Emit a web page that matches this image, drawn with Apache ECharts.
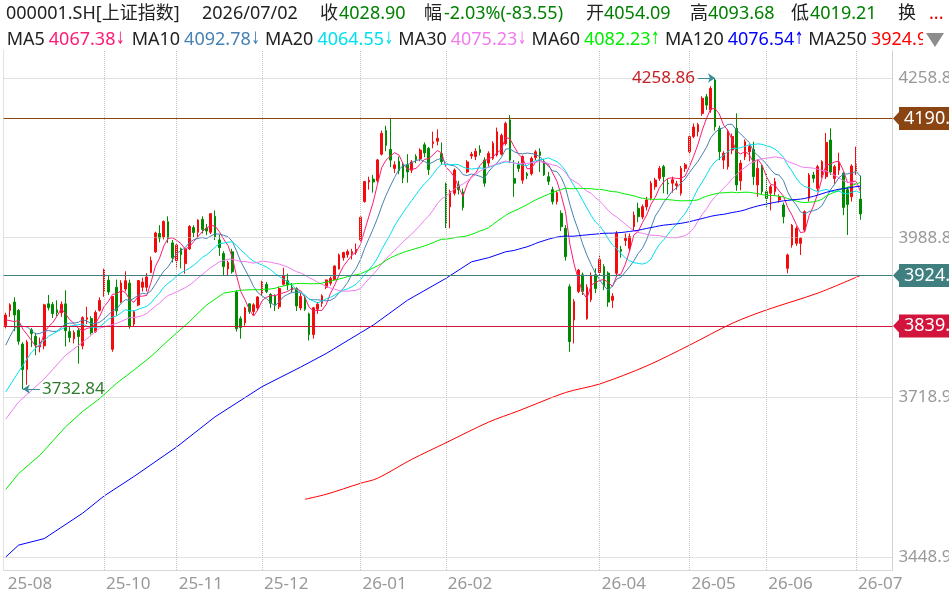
<!DOCTYPE html>
<html>
<head>
<meta charset="utf-8">
<title>000001.SH 上证指数 日K</title>
<script src="https://cdn.jsdelivr.net/npm/echarts@6/dist/echarts.min.js"></script>
<style>
  html, body { margin: 0; padding: 0; background: #fff; }
  #main { width: 949px; height: 596px; }
</style>
</head>
<body>
<div id="main"></div>
<script>
// trading days shown on the chart
const dates = [
  '2025-08-29',
  '2025-09-01','2025-09-02','2025-09-03','2025-09-04','2025-09-05','2025-09-08','2025-09-09','2025-09-10','2025-09-11','2025-09-12',
  '2025-09-15','2025-09-16','2025-09-17','2025-09-18','2025-09-19','2025-09-22','2025-09-23','2025-09-24','2025-09-25','2025-09-26',
  '2025-09-29','2025-09-30',
  '2025-10-09','2025-10-10','2025-10-13','2025-10-14','2025-10-15','2025-10-16','2025-10-17','2025-10-20','2025-10-21','2025-10-22',
  '2025-10-23','2025-10-24','2025-10-27','2025-10-28','2025-10-29','2025-10-30','2025-10-31',
  '2025-11-03','2025-11-04','2025-11-05','2025-11-06','2025-11-07','2025-11-10','2025-11-11','2025-11-12','2025-11-13','2025-11-14',
  '2025-11-17','2025-11-18','2025-11-19','2025-11-20','2025-11-21','2025-11-24','2025-11-25','2025-11-26','2025-11-27','2025-11-28',
  '2025-12-01','2025-12-02','2025-12-03','2025-12-04','2025-12-05','2025-12-08','2025-12-09','2025-12-10','2025-12-11','2025-12-12',
  '2025-12-15','2025-12-16','2025-12-17','2025-12-18','2025-12-19','2025-12-22','2025-12-23','2025-12-24','2025-12-25','2025-12-26',
  '2025-12-29','2025-12-30','2025-12-31',
  '2026-01-05','2026-01-06','2026-01-07','2026-01-08','2026-01-09','2026-01-12','2026-01-13','2026-01-14','2026-01-15','2026-01-16',
  '2026-01-19','2026-01-20','2026-01-21','2026-01-22','2026-01-23','2026-01-26','2026-01-27','2026-01-28','2026-01-29','2026-01-30',
  '2026-02-02','2026-02-03','2026-02-04','2026-02-05','2026-02-06','2026-02-09','2026-02-10','2026-02-11','2026-02-12','2026-02-13',
  '2026-02-24','2026-02-25','2026-02-26','2026-02-27',
  '2026-03-02','2026-03-03','2026-03-04','2026-03-05','2026-03-06','2026-03-09','2026-03-10','2026-03-11','2026-03-12','2026-03-13',
  '2026-03-16','2026-03-17','2026-03-18','2026-03-19','2026-03-20','2026-03-23','2026-03-24','2026-03-25','2026-03-26','2026-03-27',
  '2026-03-30','2026-03-31',
  '2026-04-01','2026-04-02','2026-04-03','2026-04-07','2026-04-08','2026-04-09','2026-04-10','2026-04-13','2026-04-14','2026-04-15',
  '2026-04-16','2026-04-17','2026-04-20','2026-04-21','2026-04-22','2026-04-23','2026-04-24','2026-04-27','2026-04-28','2026-04-29',
  '2026-04-30',
  '2026-05-06','2026-05-07','2026-05-08','2026-05-11','2026-05-12','2026-05-13','2026-05-14','2026-05-15','2026-05-18','2026-05-19',
  '2026-05-20','2026-05-21','2026-05-22','2026-05-25','2026-05-26','2026-05-27','2026-05-28','2026-05-29',
  '2026-06-01','2026-06-02','2026-06-03','2026-06-04','2026-06-05','2026-06-08','2026-06-09','2026-06-10','2026-06-11','2026-06-12',
  '2026-06-15','2026-06-16','2026-06-17','2026-06-18','2026-06-22','2026-06-23','2026-06-24','2026-06-25','2026-06-26','2026-06-29',
  '2026-06-30',
  '2026-07-01','2026-07-02'
];

// daily bars: [open, close, low, high]
const candles = [
  [3840.0,3858.0,3835.5,3862.0],
  // 2025-09
  [3866.0,3875.5,3855.0,3878.0],[3880.0,3858.1,3831.0,3888.0],[3866.0,3813.6,3808.0,3868.0],[3809.0,3765.9,3732.84,3812.0],
  [3766.0,3812.5,3740.0,3816.0],[3833.0,3826.8,3804.0,3836.0],[3822.0,3807.3,3790.0,3828.0],[3804.0,3812.2,3795.0,3820.0],
  [3806.0,3875.3,3800.0,3877.0],[3877.0,3870.6,3866.0,3892.0],[3876.0,3860.5,3853.0,3880.0],[3867.0,3861.9,3856.0,3883.0],
  [3862.0,3876.3,3855.0,3881.0],[3877.0,3831.7,3805.0,3900.0],[3830.0,3820.1,3812.0,3838.0],[3818.0,3828.6,3810.0,3832.0],
  [3832.0,3821.8,3776.0,3836.0],[3806.0,3853.6,3800.0,3856.0],[3851.0,3853.3,3843.0,3872.0],[3852.0,3828.1,3825.0,3856.0],
  [3830.0,3862.5,3828.0,3866.0],[3866.0,3882.8,3864.0,3888.0],
  // 2025-10
  [3898.0,3934.0,3889.0,3936.5],[3917.0,3897.0,3892.0,3925.0],[3800.0,3889.5,3796.0,3890.0],[3905.0,3865.2,3857.0,3918.0],
  [3880.0,3912.2,3878.0,3917.0],[3902.0,3916.2,3898.0,3932.0],[3912.0,3839.8,3835.0,3918.0],[3843.0,3863.9,3838.0,3866.0],
  [3875.0,3916.3,3873.0,3917.0],[3905.0,3913.8,3898.0,3921.0],[3905.0,3922.4,3898.0,3929.0],[3930.0,3950.3,3929.0,3957.0],
  [3965.0,3996.9,3963.0,3999.0],[3996.0,3988.2,3981.0,4010.0],[3990.0,4016.3,3986.0,4018.0],[4016.0,3986.9,3980.0,4025.0],
  [3980.0,3954.8,3947.0,3985.0],
  // 2025-11
  [3950.0,3976.5,3937.0,3978.0],[3970.0,3960.2,3937.0,3972.0],[3945.0,3969.3,3928.0,3972.0],[3970.0,4007.8,3968.0,4010.0],
  [4006.0,3997.6,3990.0,4010.0],[3998.0,4018.6,3990.0,4020.0],[4020.0,4002.8,3996.0,4025.0],[4005.0,4000.1,3993.0,4012.0],
  [3998.0,4029.5,3995.0,4030.0],[4025.0,3990.5,3985.0,4035.0],[3985.0,3972.0,3958.0,3994.0],[3962.0,3939.8,3925.0,3966.0],
  [3936.0,3946.7,3925.0,3950.0],[3965.0,3931.1,3928.0,3970.0],[3897.0,3834.9,3830.0,3900.0],[3852.0,3836.8,3818.0,3856.0],
  [3845.0,3870.0,3840.0,3872.0],[3877.0,3864.2,3860.0,3878.0],[3864.0,3875.3,3858.0,3878.0],[3870.0,3888.6,3866.0,3890.0],
  // 2025-12
  [3894.0,3914.0,3892.0,3916.0],[3910.0,3897.7,3895.0,3914.0],[3893.0,3878.0,3870.0,3895.0],[3890.0,3875.8,3865.0,3893.0],
  [3872.0,3902.8,3868.0,3906.0],[3910.0,3924.1,3908.0,3938.0],[3916.0,3909.5,3900.0,3928.0],[3905.0,3900.5,3895.0,3912.0],
  [3903.0,3873.3,3865.0,3905.0],[3870.0,3889.4,3866.0,3895.0],[3887.0,3867.9,3865.0,3890.0],[3860.0,3824.8,3815.0,3862.0],
  [3825.0,3870.3,3818.0,3872.0],[3868.0,3876.4,3860.0,3880.0],[3878.0,3890.5,3872.0,3893.0],[3905.0,3917.4,3902.0,3918.0],
  [3912.0,3920.0,3908.0,3923.0],[3918.0,3941.0,3917.0,3942.0],[3936.0,3959.6,3935.0,3962.0],[3955.0,3963.7,3950.0,3965.0],
  [3960.0,3965.3,3955.0,3969.0],[3962.0,3965.1,3952.0,3970.0],[3964.0,3968.8,3960.0,3979.0],
  // 2026-01
  [3985.0,4023.4,3983.0,4025.0],[4050.0,4083.7,4048.0,4085.0],[4083.0,4085.8,4070.0,4092.0],[4088.0,4083.0,4065.0,4095.0],
  [4085.0,4120.4,4082.0,4122.0],[4130.0,4165.3,4128.0,4170.0],[4170.0,4145.0,4135.0,4178.0],[4138.0,4120.0,4108.0,4190.0],
  [4106.0,4112.0,4098.0,4118.0],[4118.0,4102.0,4096.0,4126.0],[4112.0,4090.0,4081.0,4115.0],[4112.0,4100.0,4082.0,4130.0],
  [4103.0,4117.0,4098.0,4120.0],[4126.0,4121.0,4115.0,4130.0],[4122.0,4137.0,4118.0,4140.0],[4146.0,4132.0,4125.0,4150.0],
  [4140.0,4104.0,4095.0,4142.0],[4148.0,4151.0,4140.0,4168.0],[4152.0,4157.0,4145.0,4172.0],[4131.0,4117.4,4112.0,4150.0],
  // 2026-02
  [4079.6,4013.0,4005.0,4082.0],[4041.0,4066.7,4004.7,4070.0],[4064.0,4103.3,4060.0,4106.0],[4078.0,4070.0,4062.0,4085.0],
  [4066.0,4040.0,4035.0,4072.0],[4100.0,4117.0,4098.0,4120.0],[4127.0,4130.0,4122.0,4134.0],[4126.0,4135.0,4120.0,4140.0],
  [4138.0,4133.0,4128.0,4145.0],[4120.0,4081.0,4075.0,4125.0],[4115.0,4131.5,4108.0,4135.0],[4123.0,4148.4,4120.0,4152.0],
  [4128.7,4168.0,4126.0,4175.0],[4130.0,4162.0,4128.0,4165.0],
  // 2026-03
  [4148.0,4182.0,4145.0,4185.0],[4188.0,4120.0,4115.0,4196.0],[4089.0,4081.0,4058.0,4120.0],[4112.0,4106.0,4100.0,4118.0],
  [4086.0,4126.0,4080.0,4128.0],[4097.0,4094.0,4088.0,4100.0],[4097.0,4123.0,4094.0,4126.0],[4124.0,4134.0,4120.0,4137.0],
  [4134.0,4128.0,4100.0,4140.0],[4117.0,4095.0,4093.0,4122.0],[4092.0,4084.0,4078.0,4100.0],[4070.0,4050.0,4045.0,4075.0],
  [4050.0,4065.0,4045.0,4068.0],[4030.0,4007.5,4000.0,4035.0],[4004.7,3956.8,3950.0,4010.0],[3906.0,3813.0,3796.0,3910.0],
  [3849.7,3880.7,3810.0,3885.0],[3898.0,3934.0,3895.0,3936.0],[3926.0,3898.0,3892.0,3930.0],[3852.0,3905.0,3850.0,3910.0],
  [3884.0,3925.0,3880.0,3930.0],[3926.0,3903.0,3895.0,3937.0],
  // 2026-04
  [3930.0,3952.0,3925.0,3960.0],[3940.0,3906.0,3900.0,3944.0],[3929.0,3880.0,3872.0,3932.0],[3883.0,3890.0,3870.0,3895.0],
  [3928.6,3996.0,3925.0,4000.0],[3969.0,3966.0,3955.0,3975.0],[3984.0,3988.0,3975.0,3996.0],[3971.0,3990.6,3966.0,3996.0],
  [4007.5,4027.0,4000.0,4033.0],[4038.5,4024.4,4015.0,4048.0],[4024.0,4041.3,4020.0,4045.0],[4041.0,4052.5,4035.0,4058.0],
  [4055.4,4080.8,4052.0,4085.0],[4075.0,4086.4,4070.0,4090.0],[4089.0,4106.0,4085.0,4110.0],[4109.0,4092.0,4064.0,4112.0],
  [4081.0,4080.0,4062.0,4088.0],[4081.0,4087.0,4065.0,4092.0],[4077.0,4080.0,4070.0,4085.0],[4064.0,4106.0,4060.0,4110.0],
  [4106.0,4112.0,4100.0,4115.0],
  // 2026-05
  [4134.0,4159.7,4130.0,4163.0],[4160.0,4176.0,4157.0,4182.0],[4168.0,4180.0,4160.0,4183.0],[4199.0,4224.5,4195.0,4228.0],
  [4227.0,4213.0,4205.0,4232.0],[4204.8,4241.4,4200.0,4245.0],[4255.5,4176.6,4170.0,4258.86],[4173.8,4134.3,4120.0,4178.0],
  [4120.0,4131.5,4105.0,4135.0],[4109.0,4168.0,4104.0,4172.0],[4137.0,4160.0,4130.0,4165.0],[4173.8,4078.0,4068.0,4199.0],
  [4085.0,4115.0,4069.0,4120.0],[4125.8,4151.2,4120.0,4155.0],[4134.0,4143.0,4118.0,4146.0],[4138.0,4092.0,4078.0,4151.0],
  [4078.0,4106.0,4058.0,4120.0],[4109.0,4067.0,4062.0,4112.0],
  // 2026-06
  [4066.7,4055.0,4041.0,4098.0],[4064.0,4075.0,4035.0,4078.0],[4066.7,4083.6,4060.0,4090.0],[4052.5,4058.0,4048.0,4062.0],
  [4044.0,4024.4,4013.0,4048.0],[3937.0,3959.6,3928.6,3962.0],[3976.5,4010.0,3972.0,4012.0],[3979.3,4004.7,3975.0,4008.0],
  [3979.3,3987.8,3959.6,3990.0],[4001.9,4032.9,3998.0,4035.0],[4055.4,4094.8,4050.0,4098.0],[4094.8,4089.2,4082.0,4100.0],
  [4072.3,4108.9,4068.0,4112.0],[4095.0,4117.4,4090.0,4120.0],[4092.0,4150.0,4088.0,4166.0],[4154.0,4100.0,4095.0,4174.0],
  [4089.0,4108.9,4080.0,4112.0],[4103.0,4115.0,4095.0,4132.6],[4098.0,4040.0,4027.0,4100.0],[4070.0,4045.0,3993.4,4075.0],
  [4058.0,4110.0,4050.0,4113.0],
  // 2026-07
  [4100.5,4112.45,4095.0,4142.8],[4054.09,4028.90,4019.21,4093.68]
];

const ma5Lead = [['2025-08-29',3850],['2025-09-02',3847],['2025-09-03',3849]];
const ma10Lead = [['2025-08-29',3807],['2025-09-01',3822],['2025-09-02',3835],['2025-09-03',3840],['2025-09-05',3838],
  ['2025-09-09',3826],['2025-09-10',3827]];
const ma20Lead = [['2025-08-29',3728],['2025-09-03',3762],['2025-09-08',3795],['2025-09-12',3822],['2025-09-18',3838],
  ['2025-09-24',3843]];
const ma30Lead = [['2025-08-29',3682],['2025-09-03',3711],['2025-09-11',3750],['2025-09-18',3790],['2025-09-24',3812],
  ['2025-09-30',3836],['2025-10-14',3844]];
const ma60Lead = [['2025-08-29',3563],['2025-09-03',3590],['2025-09-10',3621],['2025-09-18',3669],['2025-09-24',3695],
  ['2025-09-30',3717],['2025-10-14',3743],['2025-10-20',3765],['2025-10-24',3788],['2025-10-30',3815],['2025-11-06',3847],
  ['2025-11-12',3875],['2025-11-18',3895],['2025-11-24',3900],['2025-11-27',3901]];
const ma120Lead = [['2025-08-29',3448.92],['2025-09-03',3469],['2025-09-11',3480],['2025-09-24',3523],['2025-10-09',3552],
  ['2025-10-20',3585],['2025-11-03',3635],['2025-11-14',3686],['2025-12-01',3737],['2025-12-12',3770],['2025-12-22',3793],
  ['2026-01-08',3841],['2026-01-20',3883],['2026-02-02',3920],['2026-02-10',3948],['2026-02-24',3955],['2026-03-02',3965]];
const ma250Read = [['2025-12-15',3546.5],['2025-12-22',3555],['2026-01-05',3573.5],['2026-01-09',3582],['2026-01-21',3614],
  ['2026-02-02',3642],['2026-02-24',3677],['2026-03-05',3696],['2026-03-20',3727],['2026-04-01',3741.5],['2026-04-17',3772],
  ['2026-05-06',3807],['2026-05-20',3844],['2026-06-01',3866.6],['2026-06-17',3895],['2026-07-02',3924.95]];

// header figures for the moving averages
const maNames = ['MA5', 'MA10', 'MA20', 'MA30', 'MA60', 'MA120', 'MA250'];
const maLastValues = [4067.38, 4092.78, 4064.55, 4075.23, 4082.23, 4076.54, 3924.95];
const maLastTrend = ['↓', '↓', '↓', '↓', '↑', '↑', '↑'];

// axis ticks, month separators and labels
const yTicks = [3448.92, 3718.90, 3988.88, 4258.86];
const monthLines = ['2025-10-09', '2025-11-03', '2025-12-01', '2026-01-05', '2026-02-02',
  '2026-04-01', '2026-05-06', '2026-06-01', '2026-07-01'];
const xLabelDates = ['2025-08-29'].concat(monthLines);

// horizontal price lines drawn on the chart
const levelValues = [4190.52, 3924.95, 3839.45];
const levelColors = ['#8b4513', '#3f7f80', '#d2143c'];

const FONT = '"Noto Sans", "Noto Sans CJK SC", sans-serif';
const ARROW_FONT = '"DejaVu Sans", sans-serif';
const upColor = '#f20c0c';
const downColor = '#008a00';
const maColors = ['#ff1a75', '#4682b4', '#00e0ee', '#f07cf0', '#00ee00', '#0000ff', '#ff0000'];
const headerGreen = '#008000';
const dark = '#222';

const closes = candles.map(c => c[1]);

function movingAverage (n, lead) {
   const out = closes.map((c, i) => {
      if (i < n - 1) return null;
      let sum = 0;
      for (let k = i - n + 1; k <= i; k++) sum += closes[k];
      return +(sum / n).toFixed(2);
   });
   lead.forEach(([d, v]) => { out[dates.indexOf(d)] = v; });
   return out;
}

function readLine (points) {
   const out = dates.map(() => null);
   points.forEach(([d, v]) => { out[dates.indexOf(d)] = v; });
   return out;
}

const maData = [
   movingAverage(5, ma5Lead),
   movingAverage(10, ma10Lead),
   movingAverage(20, ma20Lead),
   movingAverage(30, ma30Lead),
   movingAverage(60, ma60Lead),
   movingAverage(120, ma120Lead),
   readLine(ma250Read)
];

// extremes for the high / low annotations
let hiIdx = 0, loIdx = 0;
candles.forEach((c, i) => {
   if (c[3] > candles[hiIdx][3]) hiIdx = i;
   if (c[2] < candles[loIdx][2]) loIdx = i;
});
const hiVal = candles[hiIdx][3];
const loVal = candles[loIdx][2];

// empty slots on the right of the last bar
const padSlots = ['pad1', 'pad2', 'pad3', 'pad4', 'pad5', 'pad6', 'pad7'];
const categories = dates.concat(padSlots);

// value range: tick 4258.86 sits at y=78 and 3448.92 at y=557 in a grid from 50 to 570
const pxPerPoint = (557 - 78) / (yTicks[3] - yTicks[0]);
const yMax = yTicks[3] + (78 - 50) / pxPerPoint;
const yMin = yTicks[0] - (570 - 557) / pxPerPoint;

const myChart = echarts.init(document.getElementById('main'));

const annLine = { color: '#3a8c9c', width: 1, type: 'solid' };
const hiLabel = { show: true, position: 'start', distance: 3, formatter: hiVal.toFixed(2), color: '#c81e24', fontSize: 17, fontFamily: FONT };
const loLabel = { show: true, position: 'end', distance: 2, formatter: loVal.toFixed(2), color: '#2d7d2d', fontSize: 17, fontFamily: FONT };

const option = {
   animation: false,
   backgroundColor: '#fff',
   grid: { left: 3.6, right: 56.6, top: 50, bottom: 26, containLabel: false, outerBoundsMode: 'none' },
   xAxis: {
      type: 'category',
      data: categories,
      boundaryGap: true,
      axisLine: { show: true, lineStyle: { color: '#d9d9d9' } },
      axisTick: { show: false },
      splitLine: { show: false },
      axisLabel: {
         interval: (index, value) => xLabelDates.indexOf(value) >= 0,
         formatter: v => v.slice(2, 7),
         align: 'left',
         padding: [0, 0, 0, 2],
         margin: 6,
         color: '#999',
         fontSize: 17,
         fontFamily: FONT
      }
   },
   yAxis: [{
      type: 'value',
      position: 'right',
      min: yMin,
      max: yMax,
      axisLine: { show: true, lineStyle: { color: '#c8c8c8', type: 'dotted' } },
      axisTick: { show: false },
      splitLine: { show: false },
      axisLabel: {
         customValues: yTicks,
         formatter: v => v.toFixed(2),
         margin: 6,
         color: '#999',
         fontSize: 17,
         fontFamily: FONT
      }
   }, {
      type: 'value',
      position: 'left',
      min: yMin,
      max: yMax,
      axisLine: { show: true, lineStyle: { color: '#e2e2e2' } },
      axisTick: { show: false },
      axisLabel: { show: false },
      splitLine: { show: false }
   }],
   series: [
      {
         name: 'grid',
         type: 'line',
         data: dates.map(() => null),
         z: 1,
         silent: true,
         markLine: {
            silent: true,
            symbol: 'none',
            animation: false,
            label: { show: false },
            lineStyle: { color: '#c4c4c4', type: 'dotted', width: 1 },
            data: yTicks.map(v => ({ yAxis: v })).concat(monthLines.map(d => ({ xAxis: d })))
         }
      },
      {
         name: '上证指数',
         type: 'candlestick',
         data: candles,
         barWidth: 2.2,
         z: 2,
         itemStyle: {
            color: upColor,
            color0: downColor,
            borderColor: upColor,
            borderColor0: downColor,
            borderWidth: 1
         },
         markLine: {
            silent: true,
            symbol: 'none',
            animation: false,
            label: { show: false },
            data: levelValues.map((v, k) => ({ yAxis: v, lineStyle: { color: levelColors[k], width: 1, type: 'solid' } }))
               .concat([
                  [
                     { coord: [dates[hiIdx - 4], hiVal], symbol: 'none', lineStyle: annLine, label: hiLabel },
                     { coord: [dates[hiIdx], hiVal], symbol: 'arrow', symbolSize: 7, lineStyle: annLine, label: hiLabel }
                  ],
                  [
                     { coord: [dates[loIdx], loVal], symbol: 'arrow', symbolSize: 7, lineStyle: annLine, label: loLabel },
                     { coord: [dates[loIdx + 4], loVal], symbol: 'none', lineStyle: annLine, label: loLabel }
                  ]
               ])
         }
      }
   ].concat(maNames.map((name, k) => ({
      name: name,
      type: 'line',
      data: maData[k],
      symbol: 'none',
      connectNulls: true,
      smooth: name === 'MA250' ? 0.3 : false,
      silent: true,
      z: 3,
      lineStyle: { width: 1, color: maColors[k] },
      itemStyle: { color: maColors[k] }
   })))
};

myChart.setOption(option);

// header lines
const measureCtx = document.createElement('canvas').getContext('2d');
function textWidth (text, size, family) {
   measureCtx.font = size + 'px ' + (family || FONT);
   return measureCtx.measureText(text).width;
}
function txt (x, y, text, fill, size) {
   return { type: 'text', x: x, y: y, silent: true, z: 10,
      style: { text: text, fill: fill, fontSize: size || 17, fontFamily: FONT, verticalAlign: 'middle' } };
}
const last = candles[candles.length - 1];
const prevClose = candles[candles.length - 2][1];
const change = last[1] - prevClose;
const pct = change / prevClose * 100;
const headerEls = [
   txt(6, 14, '000001.SH[上证指数]', dark, 18),
   txt(202, 14, dates[dates.length - 1].replace(/-/g, '/'), dark, 18),
   txt(320, 14, '收', dark, 18), txt(339, 14, last[1].toFixed(2), headerGreen, 18),
   txt(424, 14, '幅', dark, 18), txt(444, 14, pct.toFixed(2) + '%(' + change.toFixed(2) + ')', headerGreen, 18),
   txt(586, 14, '开', dark, 18), txt(604, 14, last[0].toFixed(2), headerGreen, 18),
   txt(690, 14, '高', dark, 18), txt(708, 14, last[3].toFixed(2), headerGreen, 18),
   txt(791, 14, '低', dark, 18), txt(810, 14, last[2].toFixed(2), headerGreen, 18),
   txt(898, 14, '换', dark, 18), txt(929, 14, '...', '#e00000', 18)
];
// MA legend row: each group starts where the reference puts it
const maGroupX = [6.7, 131.7, 265, 398.3, 531.6, 665, 808.2];
maNames.forEach((name, k) => {
   const vText = maLastValues[k].toFixed(2);
   const vx = maGroupX[k] + textWidth(name, 18) + 4;
   const ax = vx + textWidth(vText, 18) + 0.5;
   headerEls.push(txt(maGroupX[k], 40, name, dark, 18));
   headerEls.push(txt(vx, 40, vText, maColors[k], 18));
   headerEls.push({ type: 'text', x: ax, y: 40, scaleX: 0.6, silent: true, z: 10,
      style: { text: maLastTrend[k], fill: maColors[k], fontSize: 17, fontFamily: ARROW_FONT, verticalAlign: 'middle' } });
});
headerEls.push({ type: 'rect', z: 11, silent: true, shape: { x: 923, y: 28, width: 30, height: 25 }, style: { fill: '#fff' } });
headerEls.push({ type: 'polygon', z: 12, silent: true, shape: { points: [[926, 33], [944, 33], [935, 47]] }, style: { fill: '#8c8c8c' } });

// price tags on the right end of the horizontal lines
const tagEls = levelValues.map((v, k) => {
   const y = myChart.convertToPixel({ yAxisIndex: 0 }, v);
   return {
      type: 'group', z: 10, silent: true,
      children: [
         { type: 'polygon', shape: { points: [[893, y], [899.5, y - 7], [899.5, y + 7]] }, style: { fill: levelColors[k] } },
         { type: 'rect', shape: { x: 899, y: y - 11.5, width: 60, height: 23 }, style: { fill: levelColors[k] } },
         { type: 'text', x: 904, y: y, style: { text: v.toFixed(2), fill: '#fff', fontSize: 18, fontFamily: FONT, verticalAlign: 'middle' } }
      ]
   };
});

myChart.setOption({ graphic: headerEls.concat(tagEls) });

window.addEventListener('resize', function () {
   myChart.resize();
});
</script>
</body>
</html>
